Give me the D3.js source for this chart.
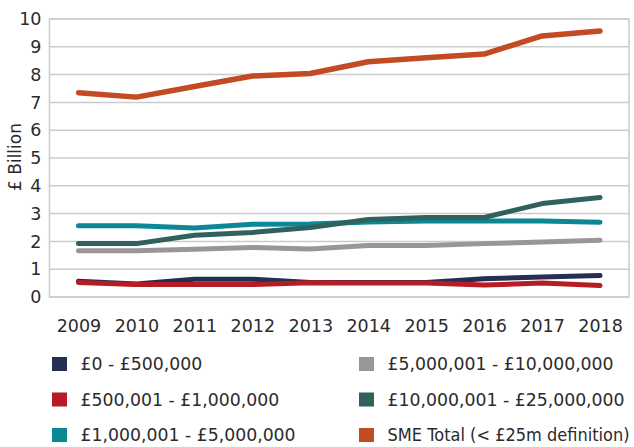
<!DOCTYPE html>
<html>
<head>
<meta charset="utf-8">
<script src="https://cdn.jsdelivr.net/npm/d3@7"></script>
<style>
  html, body { margin: 0; padding: 0; background: #fff; }
  svg { display: block; font-family: "DejaVu Sans", sans-serif; }
</style>
</head>
<body>
<svg id="chart" width="634" height="447"></svg>
<script>
// Lending by loan size band, £ billion per year
const years = ["2009","2010","2011","2012","2013","2014","2015","2016","2017","2018"];
const yTicks = [0,1,2,3,4,5,6,7,8,9,10];

const seriesNames = [
  "£0 - £500,000",
  "£500,001 - £1,000,000",
  "£1,000,001 - £5,000,000",
  "£5,000,001 - £10,000,000",
  "£10,000,001 - £25,000,000",
  "SME Total (< £25m definition)"
];
const colors = ["#262e54", "#b51c23", "#0b8796", "#9a9597", "#30615d", "#c34b24"];

const band0to500k   = [0.57, 0.47, 0.64, 0.64, 0.52, 0.52, 0.52, 0.66, 0.72, 0.77];
const band500kto1m  = [0.52, 0.45, 0.45, 0.45, 0.51, 0.50, 0.50, 0.43, 0.50, 0.41];
const band1mto5m    = [2.56, 2.56, 2.48, 2.62, 2.63, 2.70, 2.73, 2.73, 2.73, 2.69];
const band5mto10m   = [1.66, 1.66, 1.72, 1.78, 1.73, 1.85, 1.85, 1.92, 1.98, 2.04];
const band10mto25m  = [1.92, 1.92, 2.22, 2.32, 2.50, 2.79, 2.86, 2.86, 3.36, 3.58];
const smeTotal      = [7.35, 7.19, 7.57, 7.95, 8.04, 8.46, 8.61, 8.74, 9.39, 9.57];

const seriesValues = [band0to500k, band500kto1m, band1mto5m, band5mto10m, band10mto25m, smeTotal];

const svg = d3.select("#chart");
const plot = { left: 49.5, right: 629, top: 19, bottom: 297 };

const x = d3.scalePoint().domain(years).range([plot.left, plot.right]).padding(0.5);
const y = d3.scaleLinear().domain([0, 10]).range([plot.bottom, plot.top]);

const gridColor = "#cbcbcb";

// horizontal gridlines
svg.append("g")
  .selectAll("line")
  .data(yTicks)
  .join("line")
  .attr("x1", plot.left).attr("x2", plot.right)
  .attr("y1", d => y(d)).attr("y2", d => y(d))
  .attr("stroke", gridColor).attr("stroke-width", 1.5);

// plot frame
svg.append("rect")
  .attr("x", plot.left).attr("y", plot.top)
  .attr("width", plot.right - plot.left).attr("height", plot.bottom - plot.top)
  .attr("fill", "none").attr("stroke", gridColor).attr("stroke-width", 1.5);

// y axis
const yAxis = svg.append("g")
  .attr("transform", `translate(${plot.left},0)`)
  .call(d3.axisLeft(y).tickValues(yTicks).tickSize(0).tickPadding(8));
yAxis.select(".domain").remove();
yAxis.selectAll("text")
  .attr("font-family", "DejaVu Sans, sans-serif")
  .attr("font-size", 17.5).attr("fill", "#2b2b2b");

// x axis
const xAxis = svg.append("g")
  .attr("transform", `translate(0,${plot.bottom})`)
  .call(d3.axisBottom(x).tickSize(0).tickPadding(23));
xAxis.select(".domain").remove();
xAxis.selectAll("text")
  .attr("font-family", "DejaVu Sans, sans-serif")
  .attr("font-size", 17.5).attr("fill", "#2b2b2b");

// y axis title
svg.append("text")
  .attr("transform", "translate(21,157) rotate(-90)")
  .attr("text-anchor", "middle")
  .attr("font-size", 17).attr("fill", "#2b2b2b")
  .text("£ Billion");

// series lines
const line = d3.line()
  .x((d, i) => x(years[i]))
  .y(d => y(d));

svg.append("g")
  .selectAll("path")
  .data(seriesValues)
  .join("path")
  .attr("d", d => line(d))
  .attr("fill", "none")
  .attr("stroke", (d, i) => colors[i])
  .attr("stroke-width", (d, i) => i === 5 ? 5.5 : 5)
  .attr("stroke-linecap", "round")
  .attr("stroke-linejoin", "round");

// legend, two columns of three
const legend = svg.append("g");
const legendCols = [52, 359];
const legendRows = [364, 399.5, 435];
const labelX = 28.5;
const maxLabelWidth = 242;
const items = legend.selectAll("g")
  .data(seriesNames)
  .join("g")
  .attr("transform", (d, i) => `translate(${legendCols[Math.floor(i / 3)]},${legendRows[i % 3]})`);
items.append("rect")
  .attr("x", 0).attr("y", -7)
  .attr("width", 15).attr("height", 14)
  .attr("fill", (d, i) => colors[i]);
items.append("text")
  .attr("x", 0).attr("y", 0)
  .attr("dy", "0.35em")
  .attr("font-size", 17.3).attr("fill", "#2b2b2b")
  .text(d => d)
  .each(function () {
    // condense any label wider than the space left at the right edge
    const w = this.getComputedTextLength();
    const k = w > maxLabelWidth ? maxLabelWidth / w : 1;
    d3.select(this).attr("transform", `translate(${labelX},0) scale(${k},1)`);
  });
</script>
</body>
</html>
